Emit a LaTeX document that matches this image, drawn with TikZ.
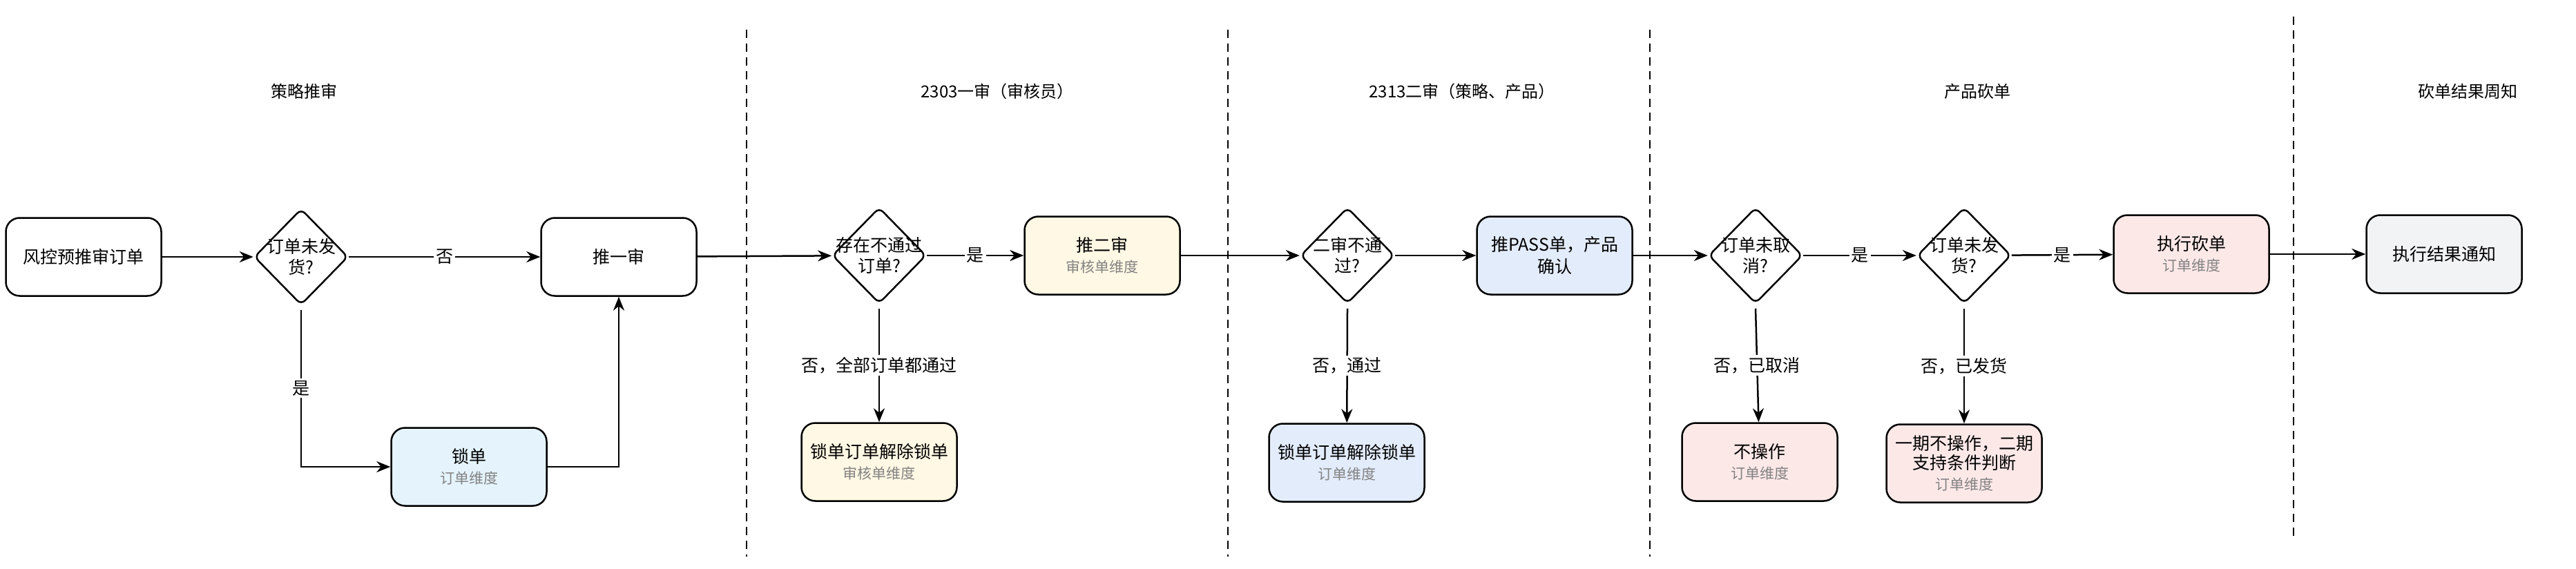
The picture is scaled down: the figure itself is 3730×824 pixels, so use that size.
\documentclass[tikz,border=0pt]{standalone}
\usepackage{fontspec}
\setmainfont{Noto Sans CJK SC}
\usetikzlibrary{shapes.geometric,arrows.meta}
\definecolor{lockblue}{RGB}{229,244,252}
\definecolor{auditcream}{RGB}{255,248,228}
\definecolor{passblue}{RGB}{227,236,251}
\definecolor{cutpink}{RGB}{253,232,232}
\definecolor{notegray}{RGB}{242,243,245}
\definecolor{subgray}{RGB}{130,130,130}
\tikzset{every picture/.style={line width=2.5pt}}
\tikzset{
	stepbox/.style={draw, rounded corners=20pt, minimum width=225pt, minimum height=113pt, align=center, font=\fontsize{25}{32}\selectfont},
	askbox/.style={draw, diamond, aspect=1, rounded corners=8pt, inner sep=0pt, minimum width=136pt, minimum height=139pt},
	flow/.style={-{Stealth[length=20pt,width=16pt]}},
	lbl/.style={fill=white, font=\fontsize{25}{30}\selectfont, inner sep=3pt},
	lane/.style={line width=1.5pt, dash pattern=on 12pt off 8pt},
	lanetitle/.style={font=\fontsize{24}{30}\selectfont}}
\newcommand{\dimnote}[1]{\\[-2pt]{\color{subgray}\fontsize{21}{26}\selectfont #1}}
\begin{document}
\begin{tikzpicture}[x=1pt,y=1pt,yscale=-1,xscale=1]
	\useasboundingbox (0,0) rectangle (3730,824);

	% lanes
	\draw [lane] (1081,43) -- (1081,806);
	\draw [lane] (1778,43) -- (1778,806);
	\draw [lane] (2389,43) -- (2389,806);
	\draw [lane] (3321,24) -- (3321,782);
	\node [lanetitle] (t1) at (440,132) {策略推审};
	\node [lanetitle] (t2) at (1444,132) {2303一审（审核员）};
	\node [lanetitle] (t3) at (2117,132) {2313二审（策略、产品）};
	\node [lanetitle] (t4) at (2863,132) {产品砍单};
	\node [lanetitle] (t5) at (3573,132) {砍单结果周知};

	% nodes
	\node [stepbox] (pre) at (121,372) {风控预推审订单};
	\node [askbox, label={[align=center, font=\fontsize{25}{30}\selectfont]center:订单未发\\货?}] (ship1) at (436,372) {};
	\node [stepbox] (first) at (896,372) {推一审};
	\node [stepbox, fill=lockblue] (lock) at (679,676) {锁单\dimnote{订单维度}};
	\node [askbox, label={[align=center, font=\fontsize{25}{30}\selectfont]center:存在不通过\\订单?}] (fail1) at (1273,370) {};
	\node [stepbox, fill=auditcream] (second) at (1596,370) {推二审\dimnote{审核单维度}};
	\node [stepbox, fill=auditcream] (unlock1) at (1273,669) {锁单订单解除锁单\dimnote{审核单维度}};
	\node [askbox, label={[align=center, font=\fontsize{25}{30}\selectfont]center:二审不通\\过?}] (fail2) at (1951,370) {};
	\node [stepbox, fill=passblue] (pass) at (2251,370) {推PASS单，产品\\确认};
	\node [stepbox, fill=passblue] (unlock2) at (1950,670) {锁单订单解除锁单\dimnote{订单维度}};
	\node [askbox, label={[align=center, font=\fontsize{25}{30}\selectfont]center:订单未取\\消?}] (cancel) at (2542,370) {};
	\node [askbox, label={[align=center, font=\fontsize{25}{30}\selectfont]center:订单未发\\货?}] (ship2) at (2844,370) {};
	\node [stepbox, fill=cutpink] (cut) at (3173,368) {执行砍单\dimnote{订单维度}};
	\node [stepbox, fill=notegray] (notify) at (3539,368) {执行结果通知};
	\node [stepbox, fill=cutpink] (noop) at (2548,669) {不操作\dimnote{订单维度}};
	\node [stepbox, fill=cutpink] (phase) at (2844,671) {一期不操作，二期\\[-4pt]支持条件判断\dimnote{订单维度}};

	% connectors
	\draw [flow] (pre) -- (ship1);
	\draw [flow] (ship1) -- node [lbl] {否} (first);
	\draw [flow] ([yshift=6pt]ship1.south) |- node [lbl, pos=0.25] {是} (lock.west);
	\draw [flow] (lock.east) -| (first.south);
	\draw [flow] (first) -- (fail1);
	\draw [flow] (fail1) -- node [lbl] {是} (second);
	\draw [flow] ([yshift=6pt]fail1.south) -- node [lbl] {否，全部订单都通过} (unlock1);
	\draw [flow] (second) -- (fail2);
	\draw [flow] (fail2) -- (pass);
	\draw [flow] ([yshift=6pt]fail2.south) -- node [lbl] {否，通过} (unlock2);
	\draw [flow] (pass) -- (cancel);
	\draw [flow] (cancel) -- node [lbl] {是} (ship2);
	\draw [flow] (ship2) -- node [lbl] {是} (cut);
	\draw [flow] ([yshift=6pt]cancel.south) -- node [lbl] {否，已取消} (noop);
	\draw [flow] ([yshift=6pt]ship2.south) -- node [lbl] {否，已发货} (phase);
	\draw [flow] (cut) -- (notify);

\end{tikzpicture}
\end{document}
